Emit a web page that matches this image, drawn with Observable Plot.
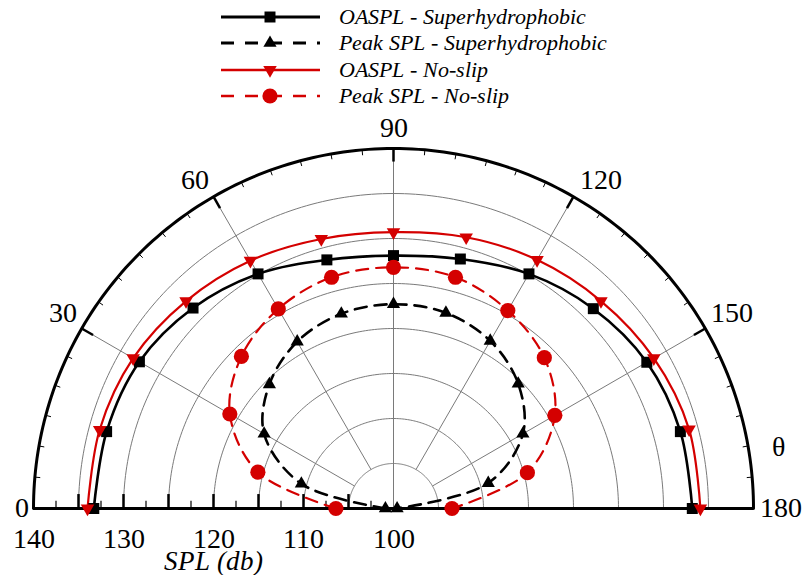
<!DOCTYPE html>
<html>
<head>
<meta charset="utf-8">
<script src="https://cdn.jsdelivr.net/npm/d3@7"></script>
<script src="https://cdn.jsdelivr.net/npm/@observablehq/plot@0.6"></script>
<style>
  @font-face { font-family: "ChartSerif"; font-style: normal; font-weight: 400; src: local("Liberation Serif"), local("LiberationSerif"), local("Liberation Serif Regular"); }
  @font-face { font-family: "ChartSerif"; font-style: italic; font-weight: 400; src: local("Liberation Serif Italic"), local("LiberationSerif-Italic"); }
  body { margin: 0; background: #fff; font-family: "ChartSerif", "Liberation Serif"; }
  #legend { position: relative; width: 803px; height: 110px; }
  .row { position: absolute; left: 220px; height: 26px; display: flex; align-items: center; }
  .row svg { display: block; }
  .row i { font-family: "ChartSerif", "Liberation Serif"; font-size: 22px; margin-left: 17px; white-space: nowrap; }
  #chart svg { display: block; overflow: visible; }
  #chart svg text { font-family: "ChartSerif", "Liberation Serif"; }
</style>
</head>
<body>
<div id="legend"></div>
<div id="chart"></div>
<script>
// ---- data ----
const angles        = [0, 15, 30, 45, 60, 75, 90, 105, 120, 135, 150, 165, 180];
const oasplSuper    = [133.3, 133.0, 132.6, 131.5, 130.1, 128.6, 128.1, 128.7, 130.1, 131.4, 132.5, 133.0, 133.2];
const peakSuper     = [100.9, 110.6, 116.6, 119.5, 121.4, 122.4, 122.7, 122.5, 121.5, 119.6, 116.6, 110.9, 100.4];
const oasplNoSlip   = [134.0, 133.8, 133.4, 132.6, 131.8, 131.0, 130.7, 131.2, 131.9, 132.6, 133.4, 134.0, 134.1];
const peakNoSlip    = [106.4, 115.6, 121.0, 123.9, 125.6, 126.6, 126.8, 126.6, 125.4, 123.7, 120.7, 115.4, 106.5];
const seriesNames   = ["OASPL - Superhydrophobic", "Peak SPL - Superhydrophobic", "OASPL - No-slip", "Peak SPL - No-slip"];
const radialLabels  = [140, 130, 120, 110, 100];
const gridRings     = [105, 110, 115, 120, 125, 130, 135];
const angleLabels   = [0, 30, 60, 90, 120, 150, 180];
const rMin = 100, rMax = 140;
const axisTitle = "SPL (db)";
const thetaTitle = "θ";

// ---- helpers ----
const fontStack = "ChartSerif, 'Liberation Serif'";
const rad = d => d * Math.PI / 180;
const polar = (theta, spl) => {
  const r = spl - rMin;
  return {x: -r * Math.cos(rad(theta)), y: r * Math.sin(rad(theta))};
};
const red = "#d40000";
const gridColor = "#7a7a7a";

const triangleDown = {
  draw(context, size) {
    const sqrt3 = Math.sqrt(3);
    const y = -Math.sqrt(size / (sqrt3 * 3));
    context.moveTo(0, -y * 2);
    context.lineTo(-sqrt3 * y, y);
    context.lineTo(sqrt3 * y, y);
    context.closePath();
  }
};

const styles = [
  {name: seriesNames[0], values: oasplSuper,  color: "black", dash: null,   width: 2.6, symbol: d3.symbolSquare,   r: 6.2},
  {name: seriesNames[1], values: peakSuper,   color: "black", dash: "12,8", width: 2.6, symbol: d3.symbolTriangle, r: 4.9},
  {name: seriesNames[2], values: oasplNoSlip, color: red,     dash: null,   width: 2.2, symbol: triangleDown,      r: 5.0},
  {name: seriesNames[3], values: peakNoSlip,  color: red,     dash: "12,8", width: 2.2, symbol: d3.symbolCircle,   r: 7.6}
];

// ---- legend (HTML above the plot) ----
const legend = document.getElementById("legend");
const rowTops = [4, 30, 57, 83];
styles.forEach((s, i) => {
  const row = document.createElement("div");
  row.className = "row";
  row.style.top = rowTops[i] + "px";
  const ns = "http://www.w3.org/2000/svg";
  const svg = document.createElementNS(ns, "svg");
  svg.setAttribute("width", 102);
  svg.setAttribute("height", 26);
  const line = document.createElementNS(ns, "line");
  line.setAttribute("x1", 1); line.setAttribute("x2", 100);
  line.setAttribute("y1", 13); line.setAttribute("y2", 13);
  line.setAttribute("stroke", s.color);
  line.setAttribute("stroke-width", s.width + 0.4);
  if (s.dash) line.setAttribute("stroke-dasharray", "13,11");
  svg.appendChild(line);
  const p = document.createElementNS(ns, "path");
  p.setAttribute("d", d3.symbol(s.symbol, Math.PI * s.r * s.r)());
  p.setAttribute("transform", "translate(50,13)");
  p.setAttribute("fill", s.color);
  svg.appendChild(p);
  row.appendChild(svg);
  const t = document.createElement("i");
  t.textContent = s.name;
  row.appendChild(t);
  legend.appendChild(row);
});

// ---- geometry from the tick values ----
const fine = d3.range(0, 181, 1);
const ringPts = gridRings.flatMap(v => fine.map(a => ({...polar(a, v), ring: v})));
const outerPts = fine.map(a => polar(a, rMax));
const spokes = [30, 60, 90, 120, 150].map(a => {
  const p1 = polar(a, a === 90 ? rMin : 105), p2 = polar(a, rMax);
  return {x1: p1.x, y1: p1.y, x2: p2.x, y2: p2.y};
});
const outerTicks = d3.range(5, 180, 5).map(a => {
  const major = a % 30 === 0;
  const p1 = polar(a, rMax), p2 = polar(a, rMax - (major ? 1.45 : 0.6));
  return {x1: p1.x, y1: p1.y, x2: p2.x, y2: p2.y, major};
});
const majorRadTicks = d3.range(105, 140, 5);
const minorRadTicks = d3.range(102.5, 140, 5);

const seriesPts = styles.flatMap(s => angles.map((a, i) => ({...polar(a, s.values[i]), series: s.name})));

const marks = [
  Plot.line(ringPts, {x: "x", y: "y", z: "ring", stroke: gridColor, strokeWidth: 1}),
  Plot.link(spokes, {x1: "x1", y1: "y1", x2: "x2", y2: "y2", stroke: gridColor, strokeWidth: 1}),
  Plot.line(outerPts, {x: "x", y: "y", stroke: "black", strokeWidth: 3}),
  Plot.link(outerTicks.filter(d => d.major), {x1: "x1", y1: "y1", x2: "x2", y2: "y2", stroke: "black", strokeWidth: 2.5}),
  Plot.link(outerTicks.filter(d => !d.major), {x1: "x1", y1: "y1", x2: "x2", y2: "y2", stroke: "black", strokeWidth: 1}),
  Plot.ruleY([0], {stroke: "black", strokeWidth: 3}),
  Plot.ruleX(majorRadTicks, {x: d => -(d - rMin), y1: 0, y2: 1.55, stroke: "black", strokeWidth: 2.5}),
  Plot.ruleX(minorRadTicks, {x: d => -(d - rMin), y1: 0, y2: 0.8, stroke: "black", strokeWidth: 1.2})
];
styles.forEach(s => {
  const pts = seriesPts.filter(d => d.series === s.name);
  marks.push(Plot.line(pts, {x: "x", y: "y", stroke: s.color, strokeWidth: s.width, strokeDasharray: s.dash ?? undefined, curve: "catmull-rom"}));
});
styles.forEach(s => {
  const pts = seriesPts.filter(d => d.series === s.name);
  marks.push(Plot.dot(pts, {x: "x", y: "y", symbol: s.symbol, r: s.r, fill: s.color, stroke: "none"}));
});
// radial tick labels
marks.push(Plot.text(radialLabels, {x: d => -(d - rMin), y: 0, text: d => String(d), dy: 31, fontSize: 28, fontFamily: fontStack, lineAnchor: "middle"}));
// axis title
marks.push(Plot.text([axisTitle], {x: -(120 - rMin), y: 0, text: d => d, dy: 53, fontSize: 27, fontFamily: fontStack, fontStyle: "italic", lineAnchor: "middle"}));
// angle labels
const angleDy = {0: 0, 30: -15, 60: -17, 90: -20, 120: -17, 150: -15, 180: 0};
angleLabels.forEach(a => {
  const p = polar(a, rMax);
  const anchor = a < 90 ? "end" : a > 90 ? "start" : "middle";
  const dx = a < 90 ? -5 : a > 90 ? 6 : 0;
  marks.push(Plot.text([a], {x: () => p.x, y: () => p.y, text: d => String(d), textAnchor: anchor, dx, dy: angleDy[a], fontSize: 28, fontFamily: fontStack, lineAnchor: "middle"}));
});
marks.push(Plot.text([thetaTitle], {frameAnchor: "bottom-right", text: d => d, dx: 25, dy: -61, fontSize: 28, fontFamily: fontStack, lineAnchor: "middle", textAnchor: "middle"}));

const chart = Plot.plot({
  width: 803,
  height: 465,
  marginLeft: 33,
  marginRight: 50,
  marginTop: 38,
  marginBottom: 67,
  x: {domain: [-(rMax - rMin), rMax - rMin], axis: null},
  y: {domain: [0, rMax - rMin], axis: null},
  style: {background: "white", overflow: "visible", color: "black", fontFamily: fontStack},
  marks
});
document.getElementById("chart").appendChild(chart);
</script>
</body>
</html>
